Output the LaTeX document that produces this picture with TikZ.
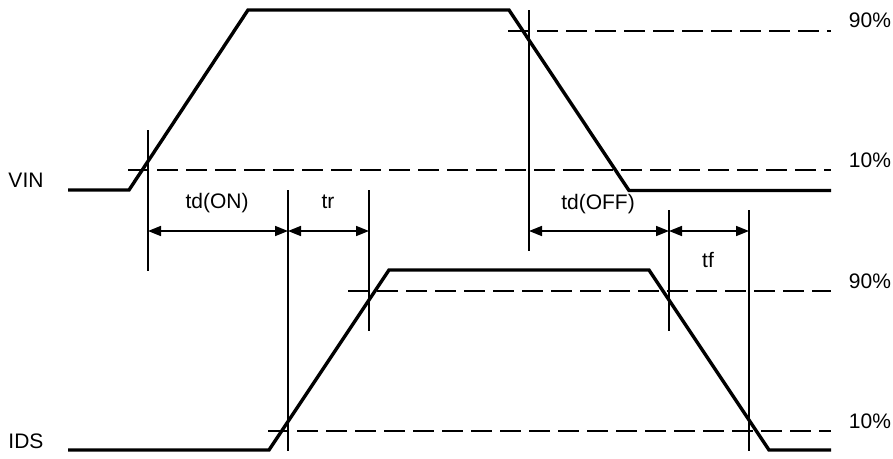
\documentclass[tikz,border=0pt]{standalone}
\usepackage{fontspec}
\setmainfont{Liberation Sans}
\usetikzlibrary{arrows.meta}
\begin{document}
\begin{tikzpicture}[x=1pt,y=-1pt,
  wave/.style={line width=3.4pt,line join=miter},
  thinline/.style={line width=1.7pt},
  threshold/.style={line width=1.9pt,dash pattern=on 21pt off 8pt},
  dimarrow/.style={line width=1.7pt,{Triangle[length=13pt,width=10pt]}-{Triangle[length=13pt,width=10pt]}},
  lbl/.style={font=\fontsize{21}{25}\selectfont,anchor=base,inner sep=0pt}]
\useasboundingbox[fill=white] (0,0) rectangle (893,458);
% VIN waveform
\draw[wave] (68,190) -- (129,190) -- (248,10) -- (509,10) -- (629,190.5) -- (831,190.5);
% IDS waveform
\draw[wave] (68,450) -- (269,450) -- (389,270) -- (649,270) -- (769,450) -- (831,450);
% dashed threshold lines
\draw[threshold] (508,31) -- (831,31);
\draw[threshold] (128,170) -- (831,170);
\draw[threshold] (348,291) -- (831,291);
\draw[threshold] (268,431) -- (831,431);
% vertical reference lines
\coordinate (v1t) at (148,130); \coordinate (v1b) at (148,271);
\coordinate (v2t) at (288,190); \coordinate (v2b) at (288,451);
\coordinate (v3t) at (369,190); \coordinate (v3b) at (369,331);
\coordinate (v4t) at (529,10);  \coordinate (v4b) at (529,251);
\coordinate (v5t) at (669,210); \coordinate (v5b) at (669,331);
\coordinate (v6t) at (749,210); \coordinate (v6b) at (749,451);
\foreach \i in {1,...,6} \draw[thinline] (v\i t) -- (v\i b);
% dimension arrows
\coordinate (a1) at (148,231); \coordinate (a2) at (288,231); \coordinate (a3) at (369,231);
\coordinate (a4) at (529,231); \coordinate (a5) at (669,231); \coordinate (a6) at (749,231);
\draw[dimarrow] (a1) -- (a2);
\draw[dimarrow] (a2) -- (a3);
\draw[dimarrow] (a4) -- (a5);
\draw[dimarrow] (a5) -- (a6);
% labels
\node[lbl] (vin) at (26,187) {VIN};
\node[lbl] (ids) at (26,448) {IDS};
\node[lbl] (tdon) at (217,208) {td(ON)};
\node[lbl] (tr) at (328,208) {tr};
\node[lbl] (tdoff) at (598,209) {td(OFF)};
\node[lbl] (tf) at (708,267) {tf};
\node[lbl] (p90a) at (870,27) {90\%};
\node[lbl] (p10a) at (870,167) {10\%};
\node[lbl] (p90b) at (870,288) {90\%};
\node[lbl] (p10b) at (870,428) {10\%};
\end{tikzpicture}
\end{document}
